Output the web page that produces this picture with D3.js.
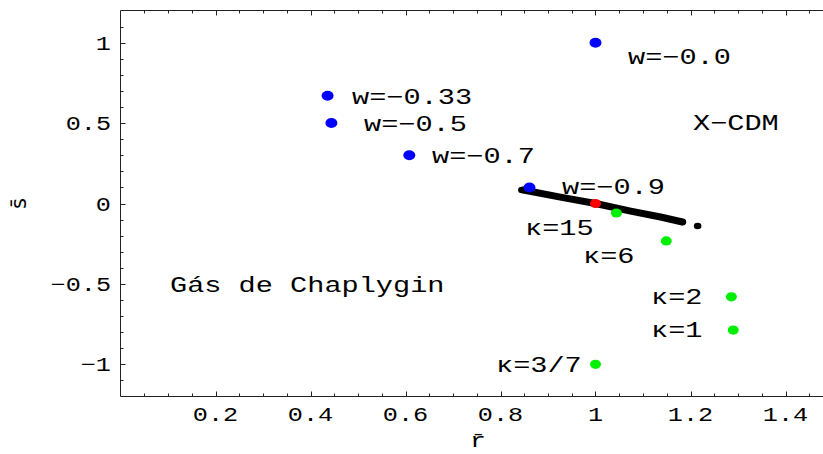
<!DOCTYPE html>
<html><head><meta charset="utf-8">
<script src="https://cdn.jsdelivr.net/npm/d3@7"></script>
<style>body{margin:0;background:#fff}svg{display:block}</style>
</head><body>
<svg id="c" width="823" height="454"></svg>
<script>
// ---- data ----
const wLabels = ["w=−0.0","w=−0.33","w=−0.5","w=−0.7","w=−0.9"];
const wR = [1.0, 0.436, 0.444, 0.608, 0.861];
const wS = [1.0, 0.67, 0.5, 0.3, 0.1];

const kLabels = ["κ=15","κ=6","κ=2","κ=1","κ=3/7"];
const kR = [1.044, 1.149, 1.286, 1.290, 1.0];
const kS = [-0.059, -0.233, -0.58, -0.787, -1.0];

const lcdmR = [1.0];
const lcdmS = [0.0];

const bandR = [0.848, 0.926, 1.0, 1.074, 1.137, 1.183];
const bandS = [0.084, 0.040, 0.0, -0.047, -0.084, -0.115];
const bandExtraR = [0.845, 1.183, 1.215];
const bandExtraS = [0.084, -0.115, -0.140];

const xTickVals = [0.2, 0.4, 0.6, 0.8, 1.0, 1.2, 1.4];
const xTickLabels = ["0.2","0.4","0.6","0.8","1","1.2","1.4"];
const yTickVals = [-1, -0.5, 0, 0.5, 1];
const yTickLabels = ["−1","−0.5","0","0.5","1"];

const regionLabels = ["X−CDM","Gás de Chaplygin"];

// ---- layout ----
const svg = d3.select("#c");
const L = 120.5, R = 823.5, T = 10.5, B = 396.5;
const x = d3.scaleLinear().domain([0, 1.48]).range([L, R]);
const y = d3.scaleLinear().domain([-1.2, 1.2]).range([B, T]);
const FONT = "'Liberation Mono','Courier New',monospace";

function txt(g, px, py, s, size, anchor, sx) {
  return g.append("text")
    .attr("transform", `translate(${px},${py}) scale(${sx || 1.3},1)`)
    .attr("text-anchor", anchor || "start")
    .attr("font-family", FONT)
    .attr("font-size", size)
    .attr("fill", "#000")
    .text(s);
}

// frame
const fr = svg.append("g").attr("stroke", "#222").attr("stroke-width", 1).attr("fill", "none");
fr.append("line").attr("x1", L).attr("x2", R).attr("y1", T).attr("y2", T);
fr.append("line").attr("x1", L).attr("x2", R).attr("y1", B).attr("y2", B);
fr.append("line").attr("x1", L).attr("x2", L).attr("y1", T).attr("y2", B);

// ticks
const xMinor = d3.range(0.05, 1.48, 0.05);
const yMinor = d3.range(-1.1, 1.2, 0.1);
const tk = svg.append("g").attr("stroke", "#222").attr("stroke-width", 1);
xMinor.forEach(v => {
  const major = xTickVals.some(t => Math.abs(t - v) < 1e-6);
  const len = major ? 5 : 3;
  const px = Math.round(x(v)) + 0.5;
  tk.append("line").attr("x1", px).attr("x2", px).attr("y1", B).attr("y2", B - len);
  tk.append("line").attr("x1", px).attr("x2", px).attr("y1", T).attr("y2", T + len);
});
yMinor.forEach(v => {
  const major = yTickVals.some(t => Math.abs(t - v) < 1e-6);
  const len = major ? 5 : 3;
  const py = Math.round(y(v)) + 0.5;
  tk.append("line").attr("x1", L).attr("x2", L + len).attr("y1", py).attr("y2", py);
});

// tick labels
const tl = svg.append("g");
xTickVals.forEach((v, i) => txt(tl, x(v), 421, xTickLabels[i], 20, "middle", 1.26));
yTickVals.forEach((v, i) => txt(tl, 111, y(v) + 7, yTickLabels[i], 20, "end", 1.26));

// axis labels
txt(svg, (L + R) / 2 + 6, 447, "r\u0304", 21, "middle", 1.26);
svg.append("text")
  .attr("transform", `translate(26,${(T + B) / 2}) rotate(-90)`)
  .attr("text-anchor", "middle")
  .attr("font-family", "'DejaVu Sans',sans-serif")
  .attr("font-size", 21)
  .text("s\u0304");

// black band
const line = d3.line().x((d, i) => x(bandR[i])).y((d, i) => y(bandS[i]));
svg.append("path").attr("d", line(bandR))
  .attr("fill", "none").attr("stroke", "#000").attr("stroke-width", 7)
  .attr("stroke-linecap", "round").attr("stroke-linejoin", "round");
svg.append("g").selectAll("ellipse").data(bandExtraR).join("ellipse")
  .attr("cx", (d, i) => x(bandExtraR[i])).attr("cy", (d, i) => y(bandExtraS[i]))
  .attr("rx", 3.8).attr("ry", 3.2).attr("fill", "#000");

// points
function dots(rs, ss, color, rx, ry) {
  svg.append("g").selectAll("ellipse").data(rs).join("ellipse")
    .attr("cx", (d, i) => x(rs[i])).attr("cy", (d, i) => y(ss[i]))
    .attr("rx", rx).attr("ry", ry).attr("fill", color);
}
dots(wR, wS, "#0000ff", 6, 5);
dots(kR, kS, "#00ee00", 5.5, 4.6);
dots(lcdmR, lcdmS, "#ff0000", 5.5, 4.6);

// point labels
const lab = svg.append("g");
const wPos = [[628, 64], [352, 104], [364, 131], [432, 163], [562, 194]];
wLabels.forEach((s, i) => txt(lab, wPos[i][0], wPos[i][1], s, 22));
const kPos = [[525, 235], [583, 263], [651, 304], [651, 337], [496, 372]];
kLabels.forEach((s, i) => txt(lab, kPos[i][0], kPos[i][1], s, 22));
txt(lab, 693, 130, regionLabels[0], 22);
txt(lab, 170, 292, regionLabels[1], 22);
</script>
</body></html>
